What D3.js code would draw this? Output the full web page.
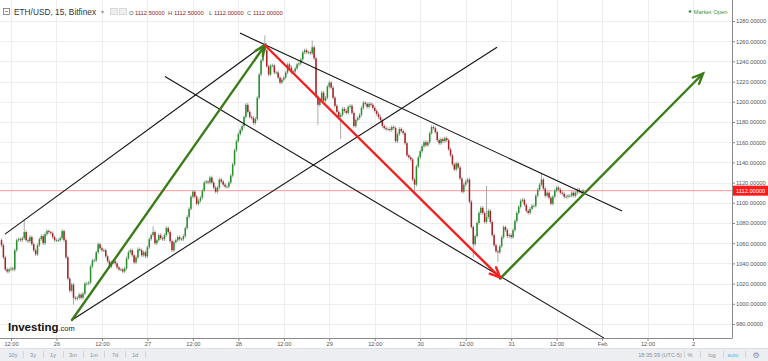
<!DOCTYPE html>
<html><head><meta charset="utf-8">
<script src="https://cdn.jsdelivr.net/npm/d3@7"></script>
<style>body{margin:0;background:#fff}svg{display:block}text{font-family:"Liberation Sans",Arial,sans-serif}</style>
</head><body><svg id="c" width="768" height="361"></svg>
<script>
// ---------- DATA ----------
const firstCandle = "2018-01-25 09:30";
const candleMinutes = 30;
const firstOpen = 1063;
const closes = [
1058,1046,1034,1032,1034,1035,1034,1053,1063,1064,
1063,1065,1071,1063,1062,1066,1059,1053,1049,1058,
1064,1067,1060,1069,1072,1071,1070,1066,1063,1063,
1063,1065,1072,1063,1046,1025,1013,1019,1006,1005,
1006,1009,1006,1010,1020,1020,1021,1037,1043,1043,
1051,1059,1055,1053,1053,1047,1042,1037,1041,1042,
1040,1036,1034,1034,1032,1035,1045,1051,1053,1048,
1041,1046,1054,1053,1048,1051,1047,1056,1064,1068,
1071,1060,1063,1068,1065,1064,1068,1075,1071,1062,
1053,1061,1063,1066,1064,1064,1067,1075,1086,1094,
1106,1111,1106,1099,1102,1105,
1112,1120,1121,1120,
1125,1120,1115,1111,1115,1123,1121,1118,1116,1116,
1120,1127,1138,1152,1161,1168,1172,1176,1185,1197,
1190,1185,1184,1179,1183,1204,1227,1241,1254,1251,
1235,1227,1236,1236,1229,1229,1224,1219,1222,1224,
1229,1237,1234,1229,1230,1233,1237,1238,1242,1249,
1251,1249,1249,1248,1254,1243,1205,1197,1202,1209,
1201,1204,1215,1219,1214,1204,1196,1190,1185,1187,
1193,1191,1189,1195,1196,1189,1176,1182,1184,1187,
1194,1199,1198,1195,1198,1197,1194,1191,1188,1185,
1182,
1176,1174,1173,1173,1172,1175,1174,1161,1168,1173,
1171,1169,1159,1147,1145,1143,1123,1118,1136,1145,
1151,1156,1160,1157,1160,1169,1175,1174,1170,1162,
1159,1163,1161,1164,1162,1153,1147,1138,1133,1139,
1135,1124,1111,1118,1121,1123,1101,1076,1059,1067,
1080,1090,1095,1090,1081,1086,1092,1081,1068,1058,
1052,1051,1057,1066,1076,1073,1067,1068,1066,1073,
1082,1090,1096,1102,1103,1098,1092,1090,1094,1097,
1097,1107,1113,1118,1123,1114,1107,1110,1105,1099,
1106,1112,1115,1113,1110,1109,1106,1106,1107,1107,
1110,1107,1110,1113,1111,1110,1112
];
const highSpikes = [[12,1081],[80,1075],[139,1264],[164,1259],[256,1115],[285,1128]];
const lowSpikes  = [[38,1001],[167,1179],[179,1165],[218,1113],[249,1048],[262,1043]];
const priceTicks = [980,1000,1020,1040,1060,1080,1100,1120,1140,1160,1180,1200,1220,1240,1260,1280];
const lastPrice = 1112;
const ohlcLabels = ["O","H","L","C"];
const ohlcValues = ["1112.50000","1112.50000","1112.00000","1112.00000"];
const blackLines = [
  ["2018-01-25 10:25",1069,"2018-01-28 07:02",1257],
  ["2018-01-26 04:06",984,"2018-01-30 20:16",1254],
  ["2018-01-28 00:26",1268,"2018-02-01 05:16",1092],
  ["2018-01-27 04:38",1225,"2018-02-01 00:31",966]
];
const greenArrows = [
  ["2018-01-26 04:06",984,"2018-01-28 07:02",1256],
  ["2018-01-30 21:04",1025,"2018-02-02 02:38",1228]
];
const redArrows = [
  ["2018-01-28 07:02",1256,"2018-01-30 21:04",1026]
];
const rangeButtons = ["10y","3y","1y","3m","1m","7d","1d"];
const clockText = "18:35:39 (UTC-5)";

// ---------- SETUP ----------
const parse = d3.timeParse("%Y-%m-%d %H:%M");
const svg = d3.select("#c");
const W = 768, H = 361, plotR = 732, plotB = 338;
const x = d3.scaleTime().domain([parse("2018-01-25 09:06"), parse("2018-02-02 10:17")]).range([0, plotR]);
const y = d3.scaleLinear().domain([980, 1280]).range([324, 21]);

svg.append("rect").attr("width",W).attr("height",H).attr("fill","#fff");

// grid
const xTicks = x.ticks(d3.timeHour.every(12));
svg.append("g").selectAll("line").data(xTicks).join("line")
  .attr("x1",d=>Math.round(x(d))+0.5).attr("x2",d=>Math.round(x(d))+0.5)
  .attr("y1",0).attr("y2",plotB).attr("stroke","#eeeeee");
svg.append("g").selectAll("line").data(priceTicks).join("line")
  .attr("x1",0).attr("x2",plotR).attr("y1",d=>Math.round(y(d))+0.5).attr("y2",d=>Math.round(y(d))+0.5)
  .attr("stroke","#eeeeee");

// last price line
svg.append("line").attr("x1",0).attr("x2",plotR).attr("y1",y(lastPrice)).attr("y2",y(lastPrice))
  .attr("stroke","#ff9a9a").attr("stroke-width",1);

// candles
const t0 = parse(firstCandle);
const candles = closes.map((c,i)=>{
  const o = i===0 ? firstOpen : closes[i-1];
  return {t:d3.timeMinute.offset(t0,i*candleMinutes), o, c, h:Math.max(o,c), l:Math.min(o,c)};
});
highSpikes.forEach(([i,v])=>{candles[i].h=Math.max(candles[i].h,v);});
lowSpikes.forEach(([i,v])=>{candles[i].l=Math.min(candles[i].l,v);});
const cg = svg.append("g");
cg.selectAll("line").data(candles).join("line")
  .attr("x1",d=>x(d.t)).attr("x2",d=>x(d.t))
  .attr("y1",d=>y(d.h)-1.8).attr("y2",d=>y(d.l)+1.8)
  .attr("stroke","#a0a0a0").attr("stroke-width",0.9);
cg.selectAll("rect").data(candles).join("rect")
  .attr("x",d=>x(d.t)-0.75).attr("width",1.5)
  .attr("y",d=>y(Math.max(d.o,d.c))).attr("height",d=>Math.max(0.8,Math.abs(y(d.o)-y(d.c))))
  .attr("fill",d=>d.c>=d.o?"#24922a":"#ad1f25");

// trend lines
const P = (t,v)=>[x(parse(t)), y(v)];
svg.append("g").selectAll("line").data(blackLines).join("line")
  .each(function(d){const a=P(d[0],d[1]), b=P(d[2],d[3]);
    d3.select(this).attr("x1",a[0]).attr("y1",a[1]).attr("x2",b[0]).attr("y2",b[1]);})
  .attr("stroke","#111").attr("stroke-width",1.1);

function arrow(g, d, color){
  const a=P(d[0],d[1]), b=P(d[2],d[3]);
  const ang=Math.atan2(b[1]-a[1], b[0]-a[0]), L=11, s=0.42;
  g.append("line").attr("x1",a[0]).attr("y1",a[1]).attr("x2",b[0]).attr("y2",b[1])
    .attr("stroke",color).attr("stroke-width",2.4).attr("stroke-linecap","round");
  g.append("path").attr("d",d3.line()([
      [b[0]-L*Math.cos(ang-s), b[1]-L*Math.sin(ang-s)], b,
      [b[0]-L*Math.cos(ang+s), b[1]-L*Math.sin(ang+s)]]))
    .attr("fill","none").attr("stroke",color).attr("stroke-width",2.4)
    .attr("stroke-linecap","round").attr("stroke-linejoin","miter");
}
const ag = svg.append("g");
greenArrows.forEach(d=>arrow(ag,d,"#3a7d18"));
redArrows.forEach(d=>arrow(ag,d,"#f42020"));

// axes backgrounds
svg.append("rect").attr("x",plotR).attr("y",0).attr("width",W-plotR).attr("height",plotB).attr("fill","#fff");
svg.append("rect").attr("x",0).attr("y",plotB).attr("width",W).attr("height",10).attr("fill","#fff");

// y axis
const yAxis = d3.axisRight(y).tickValues(priceTicks).tickSize(3).tickPadding(1).tickFormat(d=>d.toFixed(5));
const yg = svg.append("g").attr("transform",`translate(${plotR},0)`).call(yAxis);
yg.select(".domain").attr("stroke","#8a8a8a").attr("d",`M0.5,0V${plotB}`);
yg.selectAll(".tick line").attr("stroke","#8a8a8a");
yg.selectAll(".tick text").attr("fill","#555").style("font-size","5.7px");

// x axis
const fmtX = d => d.getHours()===12 ? "12:00" : (d.getDate()===1 ? d3.timeFormat("%b")(d) : d3.timeFormat("%-d")(d));
const xAxis = d3.axisBottom(x).tickValues(xTicks).tickSize(3).tickPadding(1).tickFormat(fmtX);
const xg = svg.append("g").attr("transform",`translate(0,${plotB})`).call(xAxis);
xg.select(".domain").attr("stroke","#8a8a8a").attr("d",`M0,0.5H${plotR+0.5}`);
xg.selectAll(".tick line").attr("stroke","#8a8a8a");
xg.selectAll(".tick text").attr("fill","#555").style("font-size","5.7px");

// last price tag
svg.append("rect").attr("x",plotR+1).attr("y",y(lastPrice)-5).attr("width",W-plotR-1).attr("height",10).attr("fill","#ff1a1a");
svg.append("text").attr("x",plotR+4).attr("y",y(lastPrice)).attr("dy","0.35em")
  .attr("fill","#fff").style("font-size","5.7px").text(lastPrice.toFixed(5));

// header
svg.append("rect").attr("x",3.5).attr("y",8.5).attr("width",6).attr("height",6).attr("fill","none").attr("stroke","#777").attr("stroke-width",0.8);
svg.append("line").attr("x1",5).attr("x2",8).attr("y1",11.5).attr("y2",11.5).attr("stroke","#777").attr("stroke-width",0.8);
svg.append("text").attr("x",14).attr("y",15).attr("fill","#333").style("font-size","8.3px").text("ETH/USD, 15, Bitfinex");
svg.append("text").attr("x",101).attr("y",14).attr("fill","#999").style("font-size","6px").text("▾");
[110,119].forEach(px=>{
  svg.append("rect").attr("x",px+0.5).attr("y",8.5).attr("width",7).attr("height",6).attr("fill","#eee").attr("stroke","#ccc").attr("stroke-width",0.7);
});
const ohlcX = [129,168,209,247];
ohlcLabels.forEach((l,i)=>{
  svg.append("text").attr("x",ohlcX[i]).attr("y",14.5).attr("fill","#555").style("font-size","5.8px").text(l);
  svg.append("text").attr("x",ohlcX[i]+(l==="L"?5:6)).attr("y",14.5).attr("fill","#8e2424").style("font-size","5.8px").text(ohlcValues[i]);
});
svg.append("circle").attr("cx",690).attr("cy",11.5).attr("r",1.3).attr("fill","#2f8f3a");
svg.append("text").attr("x",693.5).attr("y",13.5).attr("fill","#3a9a45").style("font-size","5.9px").text("Market Open");

// logo
const logo = svg.append("text").attr("x",8).attr("y",331).attr("fill","#111");
logo.append("tspan").style("font-size","11.5px").style("font-weight","bold").text("Investing");
logo.append("tspan").style("font-size","7.5px").attr("fill","#222").text(".com");

// bottom bar
svg.append("rect").attr("x",0).attr("y",348).attr("width",W).attr("height",13).attr("fill","#eceef1");
svg.append("line").attr("x1",0).attr("x2",W).attr("y1",348.5).attr("y2",348.5).attr("stroke","#dde0e4");
const btnX = [13,33,53,73,94,115,135];
rangeButtons.forEach((b,i)=>{
  svg.append("text").attr("x",btnX[i]).attr("y",356.5).attr("text-anchor","middle").attr("fill","#8a8f96").style("font-size","5.6px").text(b);
  svg.append("line").attr("x1",btnX[i]+10.5).attr("x2",btnX[i]+10.5).attr("y1",351).attr("y2",358).attr("stroke","#d3d6db");
});
const rightItems = [[660,clockText,"#8a8f96"],[690,"%","#8a8f96"],[712,"log","#8a8f96"],[733,"auto","#4cb8ea"]];
rightItems.forEach(([px,t,c])=>{
  svg.append("text").attr("x",px).attr("y",356.5).attr("text-anchor","middle").attr("fill",c).style("font-size","5.6px").text(t);
});
[684,700,723,745].forEach(px=>svg.append("line").attr("x1",px+0.5).attr("x2",px+0.5).attr("y1",351).attr("y2",358).attr("stroke","#d3d6db"));
svg.append("text").attr("x",756).attr("y",357.5).attr("text-anchor","middle").attr("fill","#8a8f96")
  .style("font-family","DejaVu Sans").style("font-size","8px").text("⚙");
</script></body></html>
